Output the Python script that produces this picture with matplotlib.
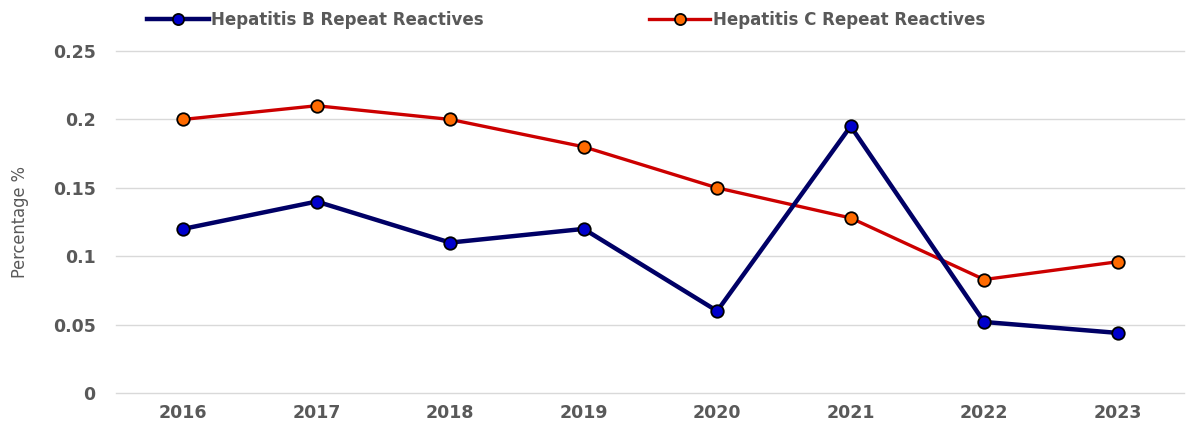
"""Hepatitis B / C repeat reactives, 2016-2023."""
import matplotlib
matplotlib.use('Agg')
import matplotlib.pyplot as plt
from matplotlib.lines import Line2D

# ── Data ────────────────────────────────────────────────────────────
years = ['2016', '2017', '2018', '2019', '2020', '2021', '2022', '2023']
hep_b = [0.12, 0.14, 0.11, 0.12, 0.06, 0.195, 0.052, 0.044]
hep_c = [0.20, 0.21, 0.20, 0.18, 0.15, 0.128, 0.083, 0.096]
y_ticks = [0, 0.05, 0.1, 0.15, 0.2, 0.25]
y_tick_labels = ['0', '0.05', '0.1', '0.15', '0.2', '0.25']

TEXT_GRAY = '#595959'

fig = plt.figure(figsize=(12, 4.25), dpi=100, facecolor='white')
ax = fig.add_axes([0.097, 0.075, 0.89, 0.805])

x = list(range(len(years)))
ax.plot(x, hep_c, color='#CC0000', lw=2.4, marker='o', ms=9,
        mfc='#FF6A00', mec='black', mew=1.3, zorder=3,
        label='Hepatitis C Repeat Reactives')
ax.plot(x, hep_b, color='#000066', lw=3.2, marker='o', ms=9,
        mfc='#0000CC', mec='black', mew=1.3, zorder=4,
        label='Hepatitis B Repeat Reactives')

ax.set_xlim(-0.5, 7.5)
ax.set_ylim(0, 0.25)
ax.set_xticks(x)
ax.set_xticklabels(years)
ax.set_yticks(y_ticks)
ax.set_yticklabels(y_tick_labels)
ax.tick_params(length=0, labelsize=12.5, labelcolor=TEXT_GRAY)
for lbl in ax.get_xticklabels() + ax.get_yticklabels():
    lbl.set_fontweight('bold')
ax.tick_params(axis='x', pad=8)
ax.tick_params(axis='y', pad=15)

ax.grid(axis='y', color='#D9D9D9', lw=1)
for gl in ax.get_ygridlines():
    gl.set_clip_on(False)
ax.set_axisbelow(True)
for spine in ax.spines.values():
    spine.set_visible(False)

ax.set_ylabel('Percentage %', fontsize=13, color=TEXT_GRAY,
              family='DejaVu Sans', fontstretch='condensed')
ax.yaxis.set_label_coords(-0.082, 0.5)

# Legend along the top
handles = [
    Line2D([], [], color='#000066', lw=3.2, marker='o', ms=8,
           mfc='#0000CC', mec='black', mew=1.3),
    Line2D([], [], color='#CC0000', lw=2.4, marker='o', ms=8,
           mfc='#FF6A00', mec='black', mew=1.3),
]
leg = fig.legend(handles, ['Hepatitis B Repeat Reactives', 'Hepatitis C Repeat Reactives'],
                 loc='upper left', bbox_to_anchor=(0.110, 1.01), ncol=2,
                 frameon=False, handlelength=3.7, handletextpad=0.15,
                 columnspacing=9.9, prop={'weight': 'bold', 'size': 12.0})
for t in leg.get_texts():
    t.set_color(TEXT_GRAY)

fig.savefig('out.png', dpi=100, facecolor='white')
